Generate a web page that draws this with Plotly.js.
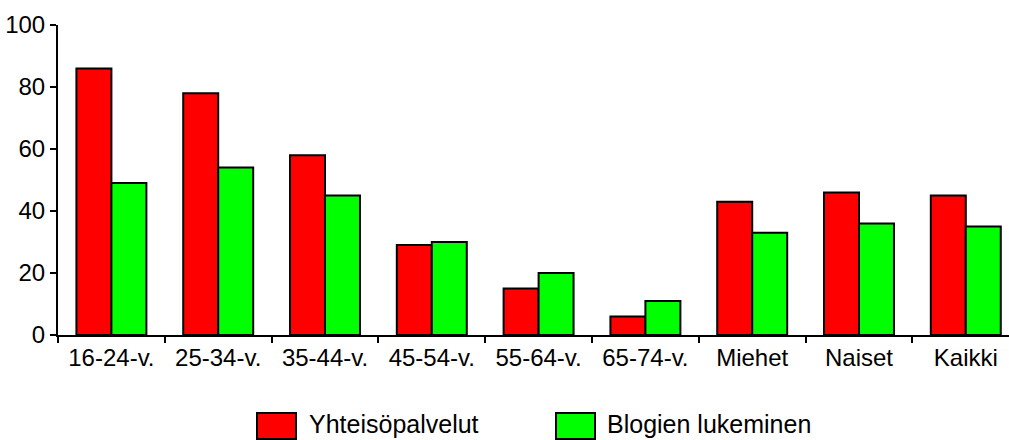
<!DOCTYPE html>
<html>
<head>
<meta charset="utf-8">
<script src="https://cdn.plot.ly/plotly-3.0.1.min.js"></script>
<style>
  html, body { margin: 0; padding: 0; background: #fff; }
  #chart { width: 1009px; height: 440px; }
</style>
</head>
<body>
<div id="chart"></div>
<script>
// ---- data ----
const categories = ["16-24-v.", "25-34-v.", "35-44-v.", "45-54-v.", "55-64-v.", "65-74-v.", "Miehet", "Naiset", "Kaikki"];
const seriesNames = ["Yhteisöpalvelut", "Blogien lukeminen"];
const yhteisopalvelut = [86, 78, 58, 29, 15, 6, 43, 46, 45];
const blogienLukeminen = [49, 54, 45, 30, 20, 11, 33, 36, 35];
const yTicks = [0, 20, 40, 60, 80, 100];
const seriesColors = ["#ff0000", "#00ff00"];

// ---- layout geometry (pixels) ----
const W = 1009, H = 440;
const M = { l: 58, r: 0, t: 25, b: 105 };
const plotW = W - M.l - M.r, plotH = H - M.t - M.b;
const px = x => (x - M.l) / plotW;
const py = y => (H - M.b - y) / plotH;
const FONT = '"Liberation Sans", Arial, Helvetica, sans-serif';

const traces = [yhteisopalvelut, blogienLukeminen].map((vals, i) => ({
  type: 'bar',
  x: categories,
  y: vals,
  name: seriesNames[i],
  marker: { color: seriesColors[i], line: { color: '#000', width: 2 } },
  hoverinfo: 'x+y+name'
}));

// custom legend (large boxes like the original)
const legendItems = [
  { box: [257, 296], text: 308 },
  { box: [556, 595], text: 606 }
];
const shapes = [], annotations = [];
legendItems.forEach((it, i) => {
  shapes.push({
    type: 'rect', xref: 'paper', yref: 'paper',
    x0: px(it.box[0]), x1: px(it.box[1]), y0: py(439), y1: py(413),
    fillcolor: seriesColors[i], line: { color: '#000', width: 2 }
  });
  annotations.push({
    xref: 'paper', yref: 'paper', x: px(it.text), y: py(424),
    xanchor: 'left', yanchor: 'middle', showarrow: false, borderpad: 0,
    text: seriesNames[i], font: { family: FONT, size: 25, color: '#000' }
  });
});

const layout = {
  width: W, height: H,
  margin: M,
  paper_bgcolor: '#fff', plot_bgcolor: '#fff',
  barmode: 'group', bargap: 0.345, bargroupgap: 0,
  showlegend: false,
  font: { family: FONT, size: 24, color: '#000' },
  xaxis: {
    type: 'category',
    range: [-0.5, -0.5 + plotW / 106.8],
    showline: true, linecolor: '#000', linewidth: 2,
    ticks: 'outside', tickson: 'boundaries', ticklen: 6, tickwidth: 2, tickcolor: '#000',
    showgrid: false, zeroline: false,
    tickfont: { family: FONT, size: 24, color: '#000' }
  },
  yaxis: {
    range: [0, 100], tickvals: yTicks,
    showline: true, linecolor: '#000', linewidth: 2,
    ticks: 'outside', ticklen: 6, tickwidth: 2, tickcolor: '#000',
    showgrid: false, zeroline: false,
    tickfont: { family: FONT, size: 24, color: '#000' },
    ticklabelstandoff: 0
  },
  shapes: shapes,
  annotations: annotations
};

Plotly.newPlot('chart', traces, layout, { displayModeBar: false, staticPlot: true });
</script>
</body>
</html>
